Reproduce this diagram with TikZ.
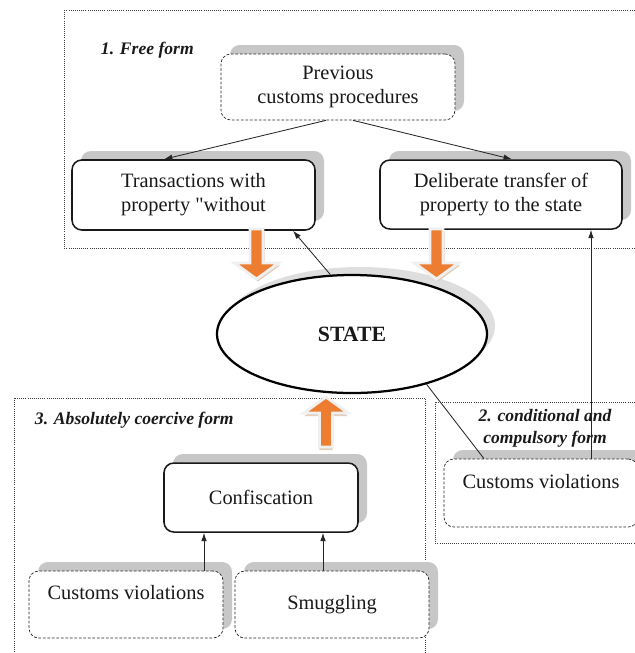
\documentclass[tikz,border=0pt]{standalone}
\usepackage{fontspec}
\setmainfont{Liberation Serif}[Ligatures=TeXOff]
\usetikzlibrary{shapes.geometric,shadows,arrows.meta}
\definecolor{arroworange}{RGB}{237,125,49}
\definecolor{arrowtan}{RGB}{226,206,188}
\tikzset{fatarrow/.pic={
\fill[arrowtan,shift={(#1)}] (-0.163,0) -- (0.163,0) -- (0.163,-0.850) -- (0.550,-0.850) -- (0,-1.250) -- (-0.550,-0.850) -- (-0.163,-0.850) -- cycle;
\draw[fill=arroworange,draw=black!6,line width=2pt] (-0.163,0) -- (0.163,0) -- (0.163,-0.850) -- (0.550,-0.850) -- (0,-1.250) -- (-0.550,-0.850) -- (-0.163,-0.850) -- cycle;
}}

\begin{document}
\begin{tikzpicture}[font=\fontsize{14.5}{17}\selectfont,
  box/.style={fill=white,text=black!90,rounded corners=7pt,align=center,
    drop shadow={shadow xshift=0.225cm,shadow yshift=0.225cm,fill=black!22,opacity=1}},
  solidbox/.style={box,draw=black!90,line width=1.1pt},
  dashbox/.style={box,draw=black!85,line width=0.5pt,dash pattern=on 2pt off 1.2pt},
  frame/.style={black!75,line width=0.5pt,densely dotted},
  formlabel/.style={font=\fontsize{12.5}{15.5}\selectfont\bfseries\itshape,text=black!90,align=center},
  link/.style={black!85,line width=0.6pt},
  linkarrow/.style={link,-{Latex[length=6pt,width=4pt]}}]
\clip (0,0) rectangle (15.875,-16.325);
% dotted frames of the three forms
\draw[frame] (1.600,-0.250) rectangle (16.250,-6.200);
\draw[frame] (0.350,-9.950) rectangle (10.625,-16.750);
\draw[frame] (10.875,-10.050) rectangle (16.250,-13.575);
\node[formlabel,anchor=west] (freelbl) at (2.400,-1.250) {1. Free form};
\node[formlabel,anchor=west] (coercivelbl) at (0.750,-10.500) {3. Absolutely coercive form};
\node[formlabel] (condlbl) at (13.625,-10.700) {2. conditional and\\compulsory form};
% boxes
\node[dashbox,minimum width=5.850cm,minimum height=1.650cm] (prev) at (8.450,-2.175) {Previous\\customs procedures};
\node[solidbox,minimum width=6.075cm,minimum height=1.750cm] (trans) at (4.838,-4.875) {Transactions with\\property "without};
\node[solidbox,minimum width=6.050cm,minimum height=1.725cm] (deliber) at (12.525,-4.863) {Deliberate transfer of\\property to the state};
\node[ellipse,draw=black,fill=white,line width=1.6pt,minimum width=6.750cm,minimum height=2.950cm,
  drop shadow={shadow xshift=0.200cm,shadow yshift=0.200cm,fill=black!13,opacity=1},
  font=\fontsize{15.5}{17}\selectfont\bfseries,text=black!90] (state) at (8.800,-8.350) {STATE};
\node[solidbox,minimum width=4.850cm,minimum height=1.725cm] (confisc) at (6.525,-12.438) {Confiscation};
\node[dashbox,minimum width=4.850cm,minimum height=1.675cm] (violleft) at (3.150,-15.113) {Customs violations\\\mbox{}};
\node[dashbox,minimum width=4.850cm,minimum height=1.675cm] (smuggle) at (8.300,-15.113) {Smuggling};
\node[dashbox,minimum width=4.850cm,minimum height=1.700cm] (violright) at (13.525,-12.325) {Customs violations\\\mbox{}};
% block arrows
\pic at (6.413,-5.725) {fatarrow={0.040,-0.060}};
\pic at (10.913,-5.725) {fatarrow={0.040,-0.060}};
\pic[rotate=180] at (8.150,-11.175) {fatarrow={0,0.080}};
% connectors
\draw[linkarrow] ([xshift=-0.300cm]prev.south) -- ([xshift=-0.738cm]trans.north);
\draw[linkarrow] ([xshift=0.375cm]prev.south) -- ([xshift=0.275cm]deliber.north);
\draw[linkarrow] (state.110) -- ([xshift=2.488cm]trans.south);
\draw[link] (state.-34) -- ([xshift=-1.425cm]violright.north);
\coordinate (righttop) at ([xshift=1.250cm]violright.north);
\draw[linkarrow] (righttop) -- (righttop |- deliber.south);
\coordinate (lefttop) at ([xshift=1.950cm]violleft.north);
\draw[linkarrow] (lefttop) -- (lefttop |- confisc.south);
\coordinate (smugtop) at ([xshift=-0.225cm]smuggle.north);
\draw[linkarrow] (smugtop) -- (smugtop |- confisc.south);
\end{tikzpicture}
\end{document}
